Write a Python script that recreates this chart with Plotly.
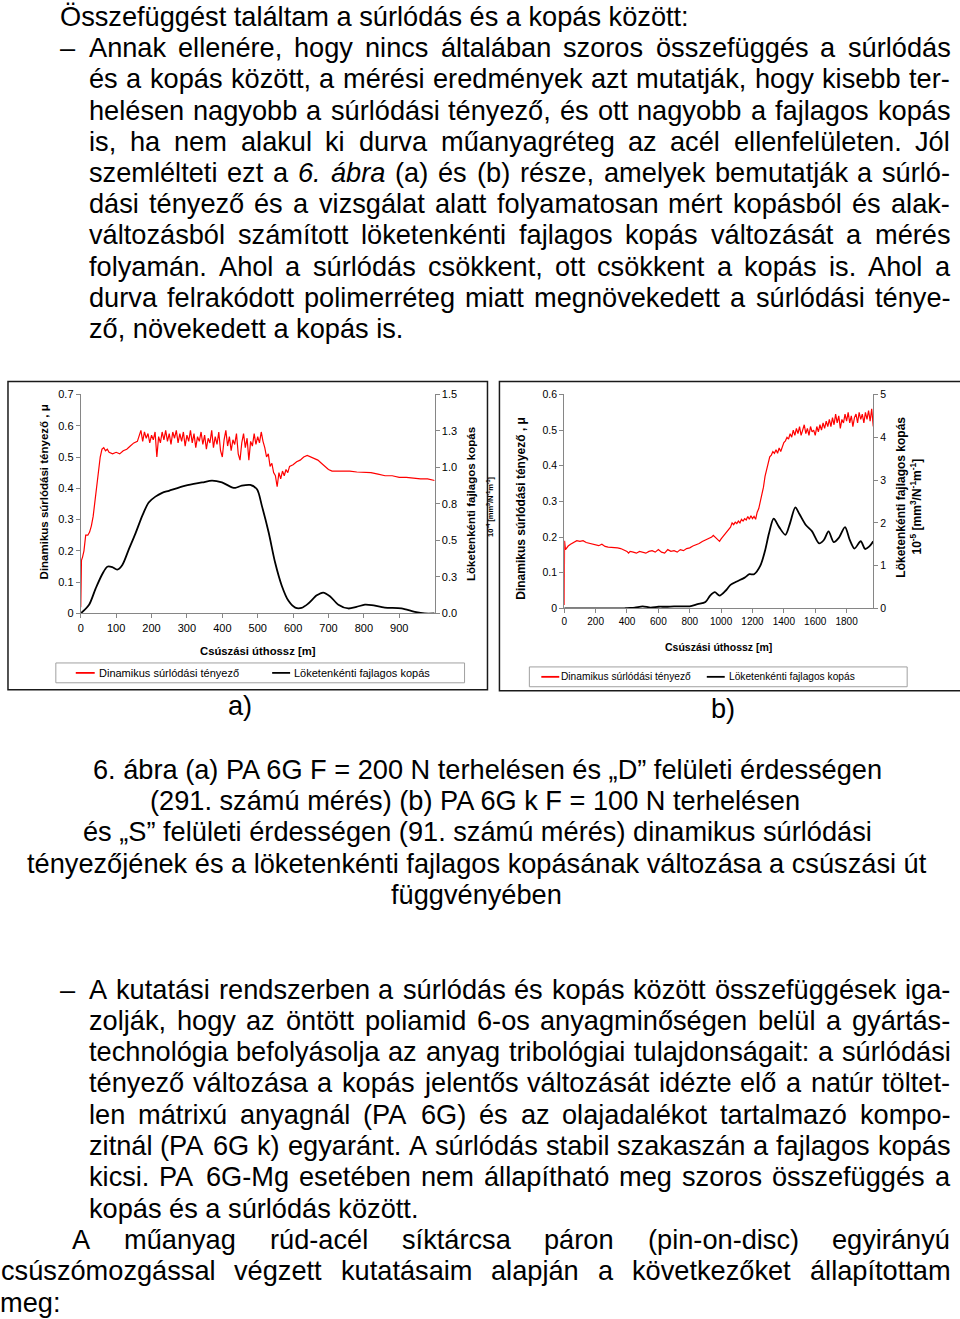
import re
import plotly.graph_objects as go

FONT = "Liberation Sans, Arial, Helvetica, sans-serif"
PAGE_W, PAGE_H = 960, 1319
BODY = 27.2
XOFF = 4  # plotly annotation left inset

# ---------------- chart (a) data ----------------
a_mu_x = [0, 2, 5, 9, 14, 20, 25, 30, 35, 40, 45, 50, 55, 60, 65, 70, 75, 80, 90, 100,
          110, 120, 130, 140, 150, 160,
          165, 170, 175, 180, 185, 190, 195, 200, 205, 210, 215, 220, 225, 230, 235, 240,
          245, 250, 255, 260, 265, 270, 275, 280, 285, 290, 295, 300, 305, 310, 315, 320,
          325, 330, 335, 340, 345, 350, 355, 360, 365, 370, 375, 380, 385, 390, 395, 400,
          405, 410, 415, 420, 425, 430, 435, 440, 445, 450, 455, 460, 465, 470, 475, 480,
          485, 490, 495, 500, 505, 510, 515, 520, 525, 530, 535, 540, 545, 550, 555, 560,
          565, 570, 575, 580, 585, 590, 600, 610, 620, 630, 640, 650, 660, 670, 680, 690,
          700, 710, 720, 740, 760, 780, 800, 820, 840, 860, 880, 900, 920, 940, 960, 980, 1000]
a_mu_y = [0.02, 0.17, 0.18, 0.2, 0.25, 0.25, 0.26, 0.28, 0.31, 0.36, 0.42, 0.47, 0.5, 0.525,
          0.53, 0.52, 0.525, 0.515, 0.51, 0.515, 0.51, 0.52, 0.525, 0.535, 0.545, 0.55,
          0.57, 0.585, 0.55, 0.58, 0.56, 0.575, 0.545, 0.57, 0.555, 0.58, 0.50, 0.565, 0.545,
          0.58, 0.555, 0.585, 0.55, 0.575, 0.54, 0.58, 0.56, 0.585, 0.545, 0.575, 0.55, 0.58,
          0.535, 0.57, 0.55, 0.585, 0.545, 0.575, 0.53, 0.565, 0.55, 0.58, 0.54, 0.57, 0.525,
          0.56, 0.545, 0.585, 0.53, 0.565, 0.54, 0.58, 0.52, 0.50, 0.555, 0.585, 0.535, 0.565,
          0.52, 0.555, 0.54, 0.575, 0.51, 0.49, 0.545, 0.575, 0.53, 0.56, 0.49, 0.55, 0.535,
          0.575, 0.54, 0.565, 0.545, 0.58, 0.55, 0.53, 0.50, 0.51, 0.47, 0.48, 0.45, 0.44,
          0.405, 0.45,
          0.43, 0.455, 0.44, 0.46, 0.45, 0.47, 0.475, 0.485, 0.49, 0.5, 0.505, 0.5, 0.495,
          0.49, 0.48, 0.47, 0.46, 0.455, 0.455, 0.455, 0.455, 0.452, 0.45, 0.45, 0.445, 0.44,
          0.44, 0.435, 0.435, 0.432, 0.43, 0.43, 0.425]
a_wear_x = [0, 23, 42, 61, 75, 89, 103, 117, 136, 155, 174, 192, 211, 230, 249, 296, 343,
            371, 399, 427, 437, 455, 479, 498, 512, 531, 549, 568, 587, 606, 624, 643, 667,
            685, 704, 728, 756, 779, 803, 822, 859, 906, 944, 972, 1000]
a_wear_y = [0, 0.057, 0.17, 0.27, 0.32, 0.317, 0.30, 0.33, 0.44, 0.55, 0.67, 0.76, 0.80,
            0.826, 0.84, 0.875, 0.897, 0.91, 0.897, 0.864, 0.86, 0.875, 0.88, 0.85, 0.735,
            0.554, 0.35, 0.19, 0.086, 0.04, 0.038, 0.068, 0.124, 0.143, 0.118, 0.06, 0.034,
            0.045, 0.06, 0.057, 0.04, 0.034, 0.011, 0, 0]
a_x_ticks = [0, 100, 200, 300, 400, 500, 600, 700, 800, 900]
a_y_ticks = [0, 0.1, 0.2, 0.3, 0.4, 0.5, 0.6, 0.7]
a_y_labels = ["0", "0.1", "0.2", "0.3", "0.4", "0.5", "0.6", "0.7"]
a_y2_ticks = [0, 0.25, 0.5, 0.75, 1.0, 1.25, 1.5]
a_y2_labels = ["0.0", "0.3", "0.5", "0.8", "1.0", "1.3", "1.5"]

# ---------------- chart (b) data ----------------
b_mu_x = [0, 2, 8, 15, 25, 40, 60, 80, 100, 120, 140, 160, 180, 200, 220, 240, 260, 280,
          300, 320, 340, 360, 380, 400, 410, 420, 440, 460, 480, 500, 520, 540, 560, 580,
          600, 620, 640, 660, 680, 700, 720, 740, 760, 780, 800, 820, 840, 860, 880, 900,
          920, 940,
          950, 960, 970, 980, 990, 1000, 1010, 1020, 1030, 1040, 1050, 1060, 1070, 1080,
          1090, 1100, 1110, 1120, 1130, 1140, 1150, 1160, 1170, 1180, 1190, 1200, 1210,
          1220, 1230, 1240, 1250, 1260, 1270, 1280, 1290, 1300, 1310, 1320, 1330, 1340,
          1350, 1360, 1370, 1380, 1390, 1400, 1410, 1420, 1430, 1440, 1450, 1460, 1470,
          1480, 1490, 1500, 1510, 1520, 1530, 1540, 1550, 1560, 1570, 1580, 1590, 1600,
          1610, 1620, 1630, 1640, 1650, 1660, 1670, 1680, 1690, 1700, 1710, 1720, 1730,
          1740, 1750, 1760, 1770, 1780, 1790, 1800, 1810, 1820, 1830, 1840, 1850, 1860,
          1870, 1880, 1890, 1900, 1910, 1920, 1930, 1940, 1950, 1960, 1970, 1975]
b_mu_y = [0.01, 0.19, 0.165, 0.17, 0.175, 0.18, 0.185, 0.19, 0.188, 0.19, 0.185, 0.183,
          0.18, 0.178, 0.176, 0.18, 0.174, 0.172, 0.172, 0.17, 0.17, 0.168, 0.165, 0.16,
          0.155, 0.16, 0.158, 0.155, 0.16, 0.158, 0.155, 0.16, 0.162, 0.158, 0.165, 0.158,
          0.155, 0.165, 0.16, 0.162, 0.158, 0.165, 0.162, 0.168, 0.17, 0.175, 0.178, 0.182,
          0.188, 0.192, 0.195, 0.2,
          0.205, 0.2, 0.195, 0.19, 0.188, 0.195, 0.2, 0.205, 0.21, 0.215, 0.22, 0.228, 0.24,
          0.235, 0.242, 0.238, 0.245, 0.24, 0.25, 0.245, 0.252, 0.248, 0.258, 0.25, 0.26,
          0.252, 0.258, 0.25, 0.27, 0.28, 0.3, 0.32, 0.34, 0.37, 0.39, 0.41, 0.425, 0.43,
          0.44, 0.435, 0.445, 0.435, 0.45, 0.44, 0.455, 0.465, 0.47, 0.48, 0.475, 0.49,
          0.48, 0.5, 0.485, 0.505, 0.49, 0.51, 0.485, 0.5, 0.515, 0.49, 0.505, 0.485, 0.51,
          0.495, 0.5, 0.485, 0.51, 0.495, 0.515, 0.5, 0.52, 0.505, 0.525, 0.51, 0.53, 0.51,
          0.535, 0.515, 0.545, 0.52, 0.54, 0.505, 0.53, 0.52, 0.545, 0.525, 0.55, 0.52,
          0.54, 0.51, 0.535, 0.545, 0.52, 0.55, 0.53, 0.545, 0.52, 0.55, 0.53, 0.555, 0.525,
          0.56, 0.51, 0.53]
b_wear_x = [0, 100, 200, 300, 380, 400, 450, 500, 550, 600, 650, 700, 750, 800, 850, 900,
            930, 960, 990, 1030, 1060, 1100, 1150, 1180, 1210, 1250, 1280, 1305, 1335, 1370,
            1410, 1440, 1473, 1500, 1540, 1580, 1625, 1655, 1685, 1718, 1750, 1790, 1820,
            1850, 1890, 1918, 1945, 1970]
b_wear_y = [0, 0, 0, 0, 0, 0.01, 0.02, 0.05, 0.02, 0.04, 0.04, 0.05, 0.05, 0.05, 0.1, 0.15,
            0.3, 0.38, 0.3, 0.42, 0.55, 0.63, 0.72, 0.8, 0.8, 1.0, 1.35, 1.75, 2.1, 1.9,
            1.72, 2.0, 2.36, 2.2, 1.95, 1.8, 1.52, 1.6, 1.8, 1.55, 1.65, 1.9, 1.6, 1.4,
            1.57, 1.39, 1.45, 1.57]
b_x_ticks = [0, 200, 400, 600, 800, 1000, 1200, 1400, 1600, 1800]
b_y_ticks = [0, 0.1, 0.2, 0.3, 0.4, 0.5, 0.6]
b_y_labels = ["0", "0.1", "0.2", "0.3", "0.4", "0.5", "0.6"]
b_y2_ticks = [0, 1, 2, 3, 4, 5]

# ---------------- texts ----------------
mu_title = "Dinamikus súrlódási tényező , μ"
wear_title = "Löketenkénti fajlagos kopás"
a_unit = "10<sup>-4</sup> [mm<sup>3</sup>/N<sup>-1</sup>m<sup>-1</sup>]"
b_unit = "10<sup>-5</sup> [mm<sup>3</sup>/N<sup>-1</sup>m<sup>-1</sup>]"
x_title = "Csúszási úthossz [m]"
leg_mu = "Dinamikus súrlódási tényező"
leg_wear = "Löketenkénti fajlagos kopás"

top_par = [
    ("Összefüggést találtam a súrlódás és a kopás között:", 60, "L"),
    ("Annak ellenére, hogy nincs általában szoros összefüggés a súrlódás", 89, "J"),
    ("és a kopás között, a mérési eredmények azt mutatják, hogy kisebb ter-", 89, "J"),
    ("helésen nagyobb a súrlódási tényező, és ott nagyobb a fajlagos kopás", 89, "J"),
    ("is, ha nem alakul ki durva műanyagréteg az acél ellenfelületen. Jól", 89, "J"),
    ("szemlélteti ezt a <i>6.</i> <i>ábra</i> (a) és (b) része, amelyek bemutatják a súrló-", 89, "J"),
    ("dási tényező és a vizsgálat alatt folyamatosan mért kopásból és alak-", 89, "J"),
    ("változásból számított löketenkénti fajlagos kopás változását a mérés", 89, "J"),
    ("folyamán. Ahol a súrlódás csökkent, ott csökkent a kopás is. Ahol a", 89, "J"),
    ("durva felrakódott polimerréteg miatt megnövekedett a súrlódási ténye-", 89, "J"),
    ("ző, növekedett a kopás is.", 89, "L"),
]
caption = [
    ("6. ábra (a) PA 6G F = 200 N terhelésen és „D” felületi érdességen", 93),
    ("(291. számú mérés) (b) PA 6G k F = 100 N terhelésen", 150),
    ("és „S” felületi érdességen (91. számú mérés) dinamikus súrlódási", 83),
    ("tényezőjének és a löketenkénti fajlagos kopásának változása a csúszási út", 27),
    ("függvényében", 392),
]
bot_par = [
    ("A kutatási rendszerben a súrlódás és kopás között összefüggések iga-", 89, "J"),
    ("zolják, hogy az öntött poliamid 6-os anyagminőségen belül a gyártás-", 89, "J"),
    ("technológia befolyásolja az anyag tribológiai tulajdonságait: a súrlódási", 89, "J"),
    ("tényező változása a kopás jelentős változását idézte elő a natúr töltet-", 89, "J"),
    ("len mátrixú anyagnál (PA 6G) és az olajadalékot tartalmazó kompo-", 89, "J"),
    ("zitnál (PA 6G k) egyaránt. A súrlódás stabil szakaszán a fajlagos kopás", 89, "J"),
    ("kicsi. PA 6G-Mg esetében nem állapítható meg szoros összefüggés a", 89, "J"),
    ("kopás és a súrlódás között.", 89, "L"),
    ("A műanyag rúd-acél síktárcsa páron (pin-on-disc) egyirányú", 72, "J"),
    ("csúszómozgással végzett kutatásaim alapján a következőket állapítottam", 1, "J"),
    ("meg:", 0, "L"),
]

# Arial / Liberation Sans advance widths (1/1000 em)
CW = {' ': 278, '!': 278, '"': 355, '(': 333, ')': 333, ',': 278, '-': 333, '.': 278,
      '/': 278, ':': 278, ';': 278, '=': 584, '–': 556, '„': 333, '”': 333,
      'A': 667, 'B': 667, 'C': 722, 'D': 722, 'E': 667, 'F': 611, 'G': 778, 'H': 722,
      'I': 278, 'J': 500, 'K': 667, 'L': 556, 'M': 833, 'N': 722, 'O': 778, 'P': 667,
      'Q': 778, 'R': 722, 'S': 667, 'T': 611, 'U': 722, 'V': 667, 'W': 944, 'X': 667,
      'Y': 667, 'Z': 611, 'a': 556, 'b': 556, 'c': 500, 'd': 556, 'e': 556, 'f': 278,
      'g': 556, 'h': 556, 'i': 222, 'j': 222, 'k': 500, 'l': 222, 'm': 833, 'n': 556,
      'o': 556, 'p': 556, 'q': 556, 'r': 333, 's': 500, 't': 278, 'u': 556, 'v': 500,
      'w': 722, 'x': 500, 'y': 500, 'z': 500, 'á': 556, 'é': 556, 'í': 278, 'ó': 556,
      'ö': 556, 'ő': 556, 'ú': 556, 'ü': 556, 'ű': 556, 'Ö': 778, 'Á': 667, 'É': 667}
for d in "0123456789":
    CW[d] = 556


def tw(s, size=BODY):
    s = re.sub(r"<[^>]+>", "", s)
    return sum(CW.get(c, 556) for c in s) / 1000.0 * size


def px(x):
    return x / PAGE_W


def py(y):
    return 1 - y / PAGE_H


fig = go.Figure()
annotations = []


def put(x, y, text, size=BODY, xanchor="left", angle=0, bold=False):
    if bold:
        text = "<b>" + text + "</b>"
    annotations.append(dict(x=px(x), y=py(y), xref="paper", yref="paper", text=text,
                            showarrow=False, xanchor=xanchor, yanchor="middle",
                            textangle=angle, borderpad=0,
                            font=dict(family=FONT, size=size, color="black")))


def put_base(x, baseline, text, size=BODY, xanchor="left"):
    if xanchor == "left":
        x = x - XOFF
    put(x, baseline - 0.3465 * size, text, size, xanchor)


def justify(text, left, right, baseline):
    words = text.split(" ")
    widths = [tw(w) for w in words]
    gap = (right - left - sum(widths)) / (len(words) - 1)
    x = left
    for w, wd in zip(words, widths):
        put_base(x, baseline, w)
        x += wd + gap


RIGHT = 953
for i, (t, left, mode) in enumerate(top_par):
    b = 20 + 31.5 * i
    if mode == "J":
        justify(t, left, RIGHT, b)
    else:
        put_base(left, b, t)
put_base(60, 20 + 31.5, "–")

for i, (t, left) in enumerate(caption):
    put_base(left, 780 + 31.45 * i, t)

for i, (t, left, mode) in enumerate(bot_par):
    b = 1001.5 + 31.6 * i
    if mode == "J":
        justify(t, left, RIGHT, b)
    else:
        put_base(left, b, t)
put_base(60, 1001.5, "–")

put_base(238, 715, "a)", xanchor="center")
put_base(722, 718, "b)", xanchor="center")

# ---------------- traces ----------------
fig.add_trace(go.Scatter(x=a_mu_x, y=a_mu_y, mode="lines", xaxis="x", yaxis="y",
                         line=dict(color="#ff0000", width=1.2), name=leg_mu))
fig.add_trace(go.Scatter(x=a_wear_x, y=a_wear_y, mode="lines", xaxis="x", yaxis="y2",
                         line=dict(color="black", width=1.8, shape="spline", smoothing=0.8),
                         name=leg_wear))
fig.add_trace(go.Scatter(x=b_mu_x, y=b_mu_y, mode="lines", xaxis="x2", yaxis="y3",
                         line=dict(color="#ff0000", width=1.2), name=leg_mu))
fig.add_trace(go.Scatter(x=b_wear_x, y=b_wear_y, mode="lines", xaxis="x2", yaxis="y4",
                         line=dict(color="black", width=1.8, shape="spline", smoothing=0.8),
                         name=leg_wear))


def ax(size, **kw):
    d = dict(showline=True, linecolor="#868686", linewidth=1, ticks="outside", ticklen=4,
             tickcolor="#868686", showgrid=False, zeroline=False, fixedrange=True,
             tickfont=dict(family=FONT, size=size, color="black"))
    d.update(kw)
    return d


# ---------------- chart furniture ----------------
shapes = []


def rect(x0, y0, x1, y1, color, width):
    shapes.append(dict(type="rect", xref="paper", yref="paper", x0=px(x0), x1=px(x1),
                       y0=py(y1), y1=py(y0), line=dict(color=color, width=width),
                       fillcolor="rgba(0,0,0,0)", layer="below"))


def seg(x0, x1, y, color, width):
    shapes.append(dict(type="line", xref="paper", yref="paper", x0=px(x0), x1=px(x1),
                       y0=py(y), y1=py(y), line=dict(color=color, width=width)))


rect(5, 379, 486, 690, "#1a1a1a", 1.5)
rect(498, 379, 962, 691, "#1a1a1a", 1.5)
rect(53, 663, 463, 683, "#a0a0a0", 1)
rect(528, 667, 907, 687, "#a0a0a0", 1)
seg(73, 92, 673, "#ff0000", 1.8)
seg(270, 288, 673, "black", 1.8)
seg(540, 558, 677, "#ff0000", 1.8)
seg(706, 724, 677, "black", 1.8)

put(95, 673, leg_mu, 11)
put(291, 673, leg_wear, 11)
put(559, 677, leg_mu, 10.2)
put(727, 677, leg_wear, 10.2)

put(41, 490, mu_title, 11.5, "center", -90, True)
put(470, 503, wear_title, 11.5, "center", -90, True)
put(489, 505, a_unit, 7.5, "center", -90, True)
put(256, 651, x_title, 11.3, "center", 0, True)

put(520, 507, mu_title, 12, "center", -90, True)
put(901, 496, wear_title, 12, "center", -90, True)
put(916, 505, b_unit, 12, "center", -90, True)
put(718, 647, x_title, 10.5, "center", 0, True)

fig.update_layout(
    width=PAGE_W, height=PAGE_H, autosize=False,
    margin=dict(l=0, r=0, t=0, b=0),
    paper_bgcolor="white", plot_bgcolor="white", showlegend=False,
    xaxis=ax(11, domain=[px(78), px(433)], range=[0, 1000], tickvals=a_x_ticks, anchor="y"),
    yaxis=ax(11, domain=[py(613), py(392)], range=[0, 0.7], tickvals=a_y_ticks,
             ticktext=a_y_labels, anchor="x"),
    yaxis2=ax(11, overlaying="y", side="right", anchor="x", range=[0, 1.5],
              tickvals=a_y2_ticks, ticktext=a_y2_labels),
    xaxis2=ax(10, domain=[px(563), px(873)], range=[0, 1970], tickvals=b_x_ticks, anchor="y3"),
    yaxis3=ax(10.5, domain=[py(608), py(392)], range=[0, 0.6], tickvals=b_y_ticks,
              ticktext=b_y_labels, anchor="x2"),
    yaxis4=ax(10.5, overlaying="y3", side="right", anchor="x2", range=[0, 5],
              tickvals=b_y2_ticks),
    annotations=annotations,
    shapes=shapes,
)

fig.write_html("out.html", config={"displayModeBar": False},
               post_script="document.body.style.margin='0';document.body.style.overflow='hidden';")
